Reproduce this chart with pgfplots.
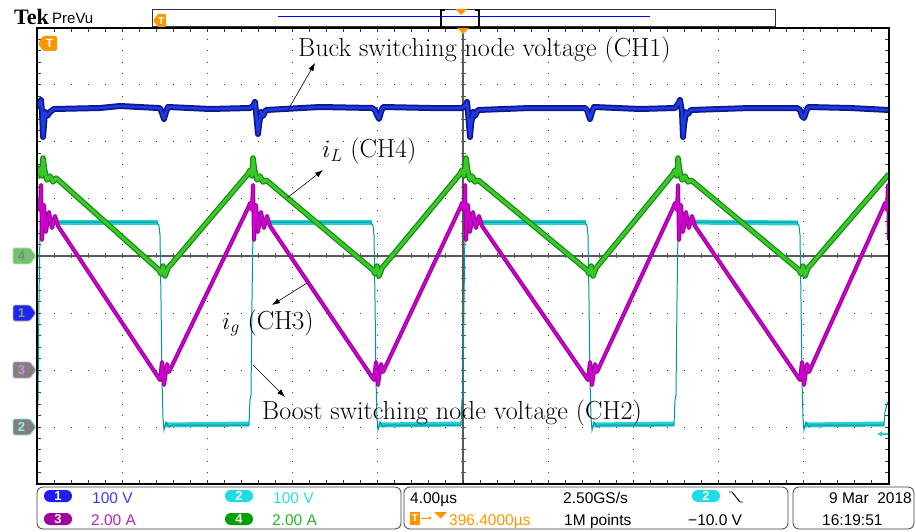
\documentclass[border=0pt]{standalone}
\usepackage{pgfplots}
\pgfplotsset{compat=1.18}
\usepackage{pgfplotstable}
\usetikzlibrary{arrows.meta}
\usepackage{fontspec}
\newfontfamily\tekui{Liberation Sans}
\newfontfamily\teklogo{Liberation Serif}

\definecolor{chA}{RGB}{15,25,140}
\definecolor{chAi}{RGB}{30,60,230}
\definecolor{chB}{RGB}{40,205,212}
\definecolor{chBd}{RGB}{0,150,160}
\definecolor{chC}{RGB}{150,0,150}
\definecolor{chCi}{RGB}{210,0,210}
\definecolor{chD}{RGB}{20,140,20}
\definecolor{chDi}{RGB}{60,200,40}
\definecolor{tekorange}{RGB}{255,150,0}
\definecolor{gridgray}{RGB}{90,90,90}
\definecolor{dotc}{RGB}{60,60,60}
% markers
\definecolor{mkFf}{RGB}{115,195,110}\definecolor{mkFt}{RGB}{125,135,125}\definecolor{mkFb}{RGB}{160,230,155}
\definecolor{mkOf}{RGB}{25,40,250}\definecolor{mkOt}{RGB}{160,150,80}\definecolor{mkOb}{RGB}{200,190,120}
\definecolor{mkGf}{RGB}{128,128,128}\definecolor{mkTt}{RGB}{215,140,215}\definecolor{mkTb}{RGB}{220,150,220}
\definecolor{mkWt}{RGB}{150,235,235}\definecolor{mkWb}{RGB}{130,230,230}
% status bar
\definecolor{pBlue}{RGB}{30,30,240}\definecolor{pMag}{RGB}{160,0,160}
\definecolor{pCyan}{RGB}{30,220,230}\definecolor{pGreen}{RGB}{0,160,0}
\definecolor{tBlue}{RGB}{60,60,240}\definecolor{tMag}{RGB}{180,40,180}
\definecolor{tCyan}{RGB}{40,220,230}\definecolor{tGreen}{RGB}{40,180,40}

% CH1: buck switching node voltage (pixel-scaled screen coordinates)
\pgfplotstableread{
x y
37 108
39 104
41 100
42 112
43 137
44 125
45 112
47 116
50 112
54 109
100 108
120 106
158 108
160 108
162 113
164 119
166 112
168 107
210 109
250 108
253 106
255 102
256 112
258 134
259 125
261 112
263 116
266 110
320 107
372 108
375 110
377 115
379 119
381 112
383 107
430 108
462 108
465 106
467 102
468 112
470 137
471 125
473 112
475 116
478 110
530 108
585 108
587 110
589 116
590 119
592 112
594 107
640 109
675 108
678 104
680 100
682 112
683 137
684 125
686 112
688 114
691 110
750 108
797 108
800 110
802 116
804 118
806 112
808 107
850 108
889 110
}\chone

% CH2: boost switching node voltage
\pgfplotstableread{
x y
37 428
38 400
39 300
40 230
41 212
43 232
45 218
47 228
50 222
157 222
159 226
160 235
161 300
162 380
163 418
164 430
166 422
169 427
172 425
249 425
250 400
251 395
252 300
253 230
254 212
256 232
258 218
260 228
263 222
371 222
373 226
374 235
375 300
376 380
377 418
378 430
380 422
383 427
386 425
461 425
462 400
463 395
464 300
465 230
466 212
468 232
470 218
472 228
475 222
585 222
587 226
588 235
589 300
590 380
591 418
592 430
594 422
597 427
600 425
674 425
675 400
676 395
677 300
678 230
679 212
681 232
683 218
685 228
688 222
797 222
799 226
800 235
801 300
802 380
803 418
804 430
806 422
809 427
812 425
884 425
885 412
887 404
889 400
}\chtwo

% CH3: i_g
\pgfplotstableread{
x y
36 208
38 203
40 210
41 185
42 240
44 205
46 232
49 212
52 228
55 216
58 226
160 380
162 362
164 385
167 364
169 372
248 208
250 203
252 210
253 185
254 240
256 205
258 232
261 212
264 228
267 216
270 226
374 380
376 362
378 385
381 364
383 372
460 208
462 203
464 210
465 185
466 240
468 205
470 232
473 212
476 228
479 216
482 226
588 380
590 362
592 385
595 364
597 372
673 208
675 203
677 210
678 185
679 240
681 205
683 232
686 212
689 228
692 216
695 226
800 380
802 362
804 385
807 364
809 372
883 208
885 203
887 210
888 185
889 240
}\chthree

% CH4: i_L
\pgfplotstableread{
x y
37 178
40 168
42 176
43 158
45 172
47 180
50 176
53 182
56 178
159 270
161 274
163 266
165 276
168 268
248 174
250 170
252 176
253 158
255 172
257 180
260 176
263 182
266 180
373 270
375 274
377 266
379 276
382 268
460 174
462 170
464 176
466 158
468 172
470 180
472 176
475 182
478 180
587 270
589 274
591 266
593 276
596 268
673 174
675 170
677 176
678 158
680 172
682 180
685 176
688 182
691 180
799 270
801 274
803 266
805 276
808 268
889 174
}\chfour

\newcommand{\chmark}[5]{%
  \fill[fill=#2, draw=#4, line width=0.8pt, rounded corners=1.5pt] (13,#1-8) -- (30,#1-8) -- (36,#1) -- (30,#1+8) -- (13,#1+8) -- cycle;
  \node[text=#3, font=\tekui\bfseries\fontsize{13}{13}\selectfont, inner sep=0] at (21.5,#1) {#5};}
\newcommand{\pill}[4]{%
  \fill[fill=#3, rounded corners=5.9pt] (#1,#2) rectangle ++(28,12);
  \node[text=white, font=\tekui\bfseries\fontsize{13}{13}\selectfont, inner sep=0] at (#1+14,#2+6) {#4};}

\begin{document}
\begin{tikzpicture}[x=1pt,y=1pt]
\path[use as bounding box, fill=white] (0,0) rectangle (916,531);

% graticule (screen pixel coordinates, y downwards)
\begin{scope}[shift={(0,531)}, yscale=-1]
  \foreach \k in {1,2,3,4,6,7,8,9} {
    \draw[dotc, line width=1pt, dash pattern=on 1pt off 10.4pt, dash phase=0.5pt] ({37+85.2*\k},28) -- ({37+85.2*\k},484);}
  \foreach \j in {1,2,3,5,6,7} {
    \draw[dotc, line width=1pt, dash pattern=on 1pt off 16.04pt, dash phase=0.5pt] (37,{28+57*\j}) -- (889,{28+57*\j});}
  \draw[gridgray, line width=1.3pt] (37,256) -- (889,256);
  \draw[gridgray, line width=1.3pt] (463,28) -- (463,484);
  \draw[gridgray, line width=5pt, dash pattern=on 1pt off 16.04pt, dash phase=0.5pt] (37,256) -- (889,256);
  \draw[gridgray, line width=5pt, dash pattern=on 1pt off 10.4pt, dash phase=0.5pt] (463,28) -- (463,484);
  \draw[dotc, line width=4pt, dash pattern=on 1pt off 16.04pt, dash phase=0.5pt] (37,30) -- (889,30);
  \draw[dotc, line width=4pt, dash pattern=on 1pt off 16.04pt, dash phase=0.5pt] (37,482) -- (889,482);
  \draw[dotc, line width=4pt, dash pattern=on 1pt off 10.4pt, dash phase=0.5pt] (39,28) -- (39,484);
  \draw[dotc, line width=4pt, dash pattern=on 1pt off 10.4pt, dash phase=0.5pt] (887,28) -- (887,484);
\end{scope}

\begin{axis}[at={(37pt,47pt)}, anchor=south west, scale only axis,
  width=852pt, height=456pt, xmin=37, xmax=889, ymin=28, ymax=484,
  y dir=reverse, hide axis, clip=true]
  % CH2 levels
  \addplot[chB, line width=5pt] coordinates {(43,222) (158,222)};
  \addplot[chB, line width=5pt] coordinates {(165,425) (249,424)};
  \addplot[chB, line width=5pt] coordinates {(256,222) (372,222)};
  \addplot[chB, line width=5pt] coordinates {(379,425) (461,424)};
  \addplot[chB, line width=5pt] coordinates {(468,222) (586,222)};
  \addplot[chB, line width=5pt] coordinates {(593,425) (674,424)};
  \addplot[chB, line width=5pt] coordinates {(681,222) (798,223)};
  \addplot[chB, line width=5pt] coordinates {(805,425) (884,424)};
  \addplot[chBd, line width=1pt] table {\chtwo};
  % CH3
  \addplot[chC, line width=4pt, line join=round] table {\chthree};
  \addplot[chCi, line width=1.8pt, line join=round] table {\chthree};
  % CH4
  \addplot[chD, line width=5.5pt, line join=round] table {\chfour};
  \addplot[chDi, line width=3pt, line join=round] table {\chfour};
  % CH1
  \addplot[chA, line width=6pt, line join=round] table {\chone};
  \addplot[chAi, line width=2.5pt, line join=round] table {\chone};
\end{axis}

\begin{scope}[shift={(0,531)}, yscale=-1]
  % frame
  \draw[black, line width=1.2pt] (37,28) rectangle (889,484);
  \draw[black, line width=2.5pt] (36,484) -- (890,484);
  % CH2 trigger level marker
  \draw[chB, line width=1.5pt, -{Latex[length=5pt,width=6pt]}] (888,434) -- (877,434);

  % annotations
  \begin{scope}[font=\fontsize{26.1}{28}\selectfont]
    \node[anchor=base west, inner sep=0] at (298,57) {Buck switching node voltage (CH1)};
    \node[anchor=base west, inner sep=0] at (322,158) {$i_L$ (CH4)};
    \node[anchor=base west, inner sep=0] at (222,329) {$i_g$ (CH3)};
    \node[anchor=base west, inner sep=0] at (262,419) {Boost switching node voltage (CH2)};
  \end{scope}
  \begin{scope}[black, line width=0.6pt, -{Latex[length=8pt,width=5.5pt]}]
    \draw (288,110) -- (315,63);
    \draw (287,198) -- (323,170);
    \draw (307,283) -- (272,305);
    \draw (253,365) -- (285,397);
  \end{scope}

  % header
  \node[anchor=base west, inner sep=0, font=\teklogo\bfseries\fontsize{22}{22}\selectfont] at (14,25) {Tek};
  \node[anchor=base west, inner sep=0, font=\tekui\fontsize{15}{15}\selectfont] at (52,24) {PreVu};
  \draw[black!80, line width=1pt, fill=white] (152,10) rectangle (775,27);
  \draw[blue, line width=1pt] (278,17) -- (650,17);
  \draw[black, line width=2pt] (445,10) -- (441,10) -- (441,27) -- (445,27);
  \draw[black, line width=2pt] (475,10) -- (479,10) -- (479,27) -- (475,27);
  \fill[tekorange] (455,9) -- (467,9) -- (461,15) -- cycle;
  \fill[tekorange, rounded corners=1pt] (158,14) -- (166,14) -- (166,27) -- (158,27) -- (153,20.5) -- cycle;
  \node[text=white, font=\tekui\bfseries\fontsize{10}{10}\selectfont, inner sep=0] at (161.5,20.8) {T};
  \fill[tekorange] (457,28) -- (469,28) -- (463,34) -- cycle;
  \fill[tekorange, rounded corners=1.5pt] (43,36) -- (57,36) -- (57,51) -- (43,51) -- (38,43.5) -- cycle;
  \node[text=white, font=\tekui\bfseries\fontsize{12}{12}\selectfont, inner sep=0] at (49.5,43.8) {T};

  % channel ground markers
  \chmark{256}{mkFf}{mkFt}{mkFb}{4}
  \chmark{313}{mkOf}{mkOt}{mkOb}{1}
  \chmark{370}{mkGf}{mkTt}{mkTb}{3}
  \chmark{427}{mkGf}{mkWt}{mkWb}{2}

  % status boxes
  \draw[black!75, line width=0.8pt, rounded corners=6pt] (37,487) rectangle (401,529);
  \draw[black!75, line width=0.8pt, rounded corners=6pt] (404,487) rectangle (788,529);
  \draw[black!75, line width=0.8pt, rounded corners=6pt] (793,487) rectangle (914,529);
  \pill{44}{490}{pBlue}{1}
  \pill{44}{513}{pMag}{3}
  \pill{225}{490}{pCyan}{2}
  \pill{225}{513}{pGreen}{4}
  \pill{692}{490}{pCyan}{2}
  \begin{scope}[font=\tekui\fontsize{15.5}{16}\selectfont]
    \node[anchor=base west, inner sep=0, text=tBlue] at (92,503) {100 V};
    \node[anchor=base west, inner sep=0, text=tMag] at (91,525) {2.00 A};
    \node[anchor=base west, inner sep=0, text=tCyan] at (273,503) {100 V};
    \node[anchor=base west, inner sep=0, text=tGreen] at (272,525) {2.00 A};
    \node[anchor=base west, inner sep=0] at (410,503) {4.00µs};
    \node[anchor=base west, inner sep=0] at (563,503) {2.50GS/s};
    \node[anchor=base west, inner sep=0, text=tekorange] at (449,525) {396.4000µs};
    \node[anchor=base west, inner sep=0] at (564,525) {1M points};
    \node[anchor=base west, inner sep=0] at (688,525) {−10.0 V};
    \node[anchor=base east, inner sep=0] at (912,503) {9 Mar\ \ 2018};
    \node[anchor=base west, inner sep=0] at (822,525) {16:19:51};
  \end{scope}
  \draw[black, line width=0.9pt] (729,492) -- (732,492) -- (740,502) -- (743,502);
  \fill[tekorange] (410,512) rectangle (420,525);
  \node[text=white, font=\tekui\bfseries\fontsize{10}{10}\selectfont, inner sep=0] at (415,518.5) {T};
  \draw[tekorange, line width=1pt, -{Latex[length=3pt,width=4pt]}] (421,518) -- (432,518);
  \fill[tekorange] (434,512) -- (447,512) -- (440.5,518.5) -- cycle;
\end{scope}
\end{tikzpicture}
\end{document}
